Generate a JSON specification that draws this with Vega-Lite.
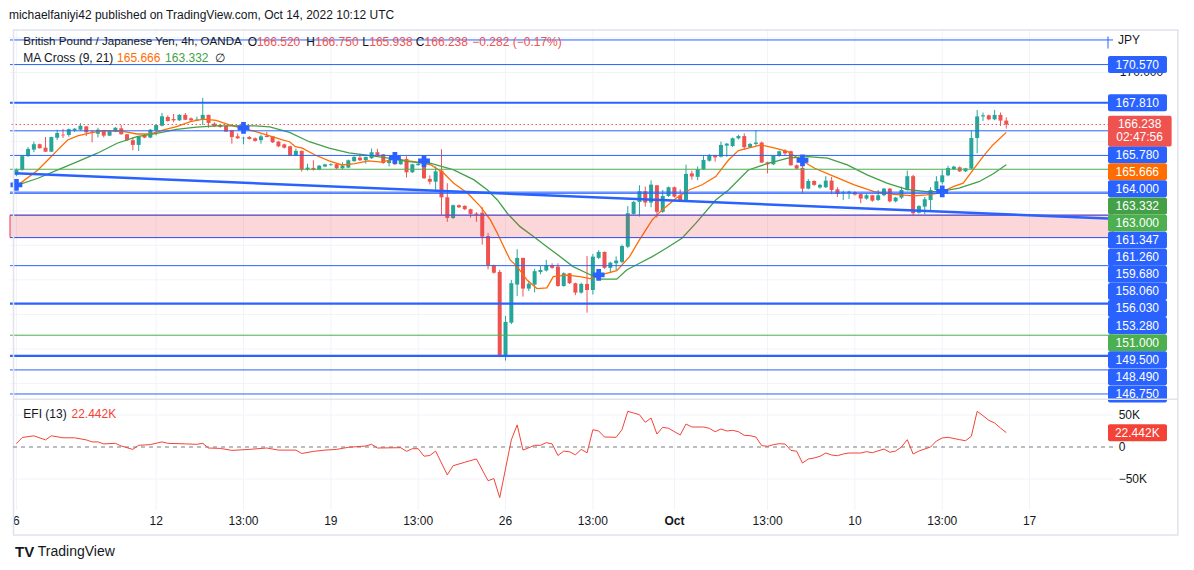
{
"$schema": "https://vega.github.io/schema/vega-lite/v6.json",
"width": 1103, "height": 480,
"autosize": {"type": "none"},
"padding": {"left": 10, "top": 30, "right": 81, "bottom": 60},
"background": "#ffffff",
"title": {"text": "michaelfaniyi42 published on TradingView.com, Oct 14, 2022 10:12 UTC", "anchor": "start", "fontSize": 12, "fontWeight": "normal", "color": "#131722", "font": "Liberation Sans", "offset": 7},
"config": {"view": {"stroke": null}, "font": "Liberation Sans"},
"datasets": {
"candles": [
{"i":-1,"o":162.60,"h":163.05,"l":162.50,"c":162.95},
{"i":0,"o":162.95,"h":164.00,"l":162.90,"c":163.95},
{"i":1,"o":163.95,"h":164.60,"l":163.90,"c":164.47},
{"i":2,"o":164.42,"h":165.00,"l":164.23,"c":164.81},
{"i":3,"o":164.81,"h":164.85,"l":164.50,"c":164.52},
{"i":4,"o":164.56,"h":165.33,"l":164.25,"c":164.27},
{"i":5,"o":164.27,"h":165.36,"l":164.25,"c":165.33},
{"i":6,"o":165.28,"h":165.86,"l":165.12,"c":165.62},
{"i":7,"o":165.50,"h":165.92,"l":165.26,"c":165.45},
{"i":8,"o":165.48,"h":165.94,"l":165.35,"c":165.90},
{"i":9,"o":165.81,"h":165.98,"l":165.70,"c":165.93},
{"i":10,"o":165.86,"h":166.33,"l":165.80,"c":166.15},
{"i":11,"o":166.10,"h":166.12,"l":165.40,"c":165.67},
{"i":12,"o":165.72,"h":165.82,"l":164.95,"c":165.63},
{"i":13,"o":165.57,"h":166.00,"l":165.30,"c":165.86},
{"i":14,"o":165.82,"h":165.84,"l":165.30,"c":165.43},
{"i":15,"o":165.43,"h":165.80,"l":165.40,"c":165.77},
{"i":16,"o":165.72,"h":166.05,"l":165.68,"c":166.00},
{"i":17,"o":165.96,"h":166.20,"l":165.50,"c":165.53},
{"i":18,"o":165.53,"h":165.55,"l":165.05,"c":165.10},
{"i":19,"o":165.10,"h":165.33,"l":164.37,"c":164.76},
{"i":20,"o":164.76,"h":165.42,"l":164.32,"c":165.38},
{"i":21,"o":165.48,"h":165.55,"l":165.25,"c":165.29},
{"i":22,"o":165.29,"h":165.90,"l":165.25,"c":165.86},
{"i":23,"o":165.82,"h":166.25,"l":165.45,"c":166.20},
{"i":24,"o":166.15,"h":167.07,"l":166.10,"c":166.83},
{"i":25,"o":166.78,"h":166.90,"l":166.45,"c":166.49},
{"i":26,"o":166.63,"h":167.00,"l":166.40,"c":166.54},
{"i":27,"o":166.54,"h":166.98,"l":166.50,"c":166.93},
{"i":28,"o":166.93,"h":167.07,"l":166.55,"c":166.58},
{"i":29,"o":166.68,"h":166.75,"l":166.50,"c":166.54},
{"i":30,"o":166.54,"h":166.80,"l":166.50,"c":166.60},
{"i":31,"o":166.58,"h":168.17,"l":166.20,"c":166.93},
{"i":32,"o":166.93,"h":166.95,"l":166.00,"c":166.35},
{"i":33,"o":166.30,"h":166.40,"l":166.05,"c":166.10},
{"i":34,"o":166.20,"h":166.25,"l":166.00,"c":166.06},
{"i":35,"o":166.15,"h":166.20,"l":165.70,"c":165.72},
{"i":36,"o":165.82,"h":165.85,"l":164.85,"c":165.33},
{"i":37,"o":165.38,"h":165.60,"l":165.20,"c":165.24},
{"i":38,"o":165.24,"h":165.35,"l":164.80,"c":165.28},
{"i":39,"o":165.33,"h":165.40,"l":165.15,"c":165.19},
{"i":40,"o":165.24,"h":165.30,"l":165.00,"c":165.05},
{"i":41,"o":165.10,"h":165.50,"l":164.85,"c":165.38},
{"i":42,"o":165.42,"h":165.70,"l":165.30,"c":165.33},
{"i":43,"o":165.38,"h":165.40,"l":164.90,"c":164.95},
{"i":44,"o":165.00,"h":165.05,"l":164.60,"c":164.66},
{"i":45,"o":164.80,"h":164.85,"l":164.50,"c":164.56},
{"i":46,"o":164.66,"h":164.70,"l":163.95,"c":163.99},
{"i":47,"o":163.99,"h":164.50,"l":163.95,"c":164.33},
{"i":48,"o":164.33,"h":164.35,"l":162.83,"c":162.97},
{"i":49,"o":162.97,"h":163.40,"l":162.90,"c":163.12},
{"i":50,"o":163.10,"h":163.65,"l":162.90,"c":162.97},
{"i":51,"o":162.97,"h":163.30,"l":162.93,"c":163.26},
{"i":52,"o":163.20,"h":163.40,"l":163.15,"c":163.35},
{"i":53,"o":163.30,"h":163.42,"l":163.25,"c":163.36},
{"i":54,"o":163.36,"h":163.40,"l":163.00,"c":163.07},
{"i":55,"o":163.07,"h":163.50,"l":163.00,"c":163.26},
{"i":56,"o":163.12,"h":163.70,"l":163.08,"c":163.65},
{"i":57,"o":163.58,"h":163.95,"l":163.55,"c":163.89},
{"i":58,"o":163.84,"h":164.10,"l":163.60,"c":163.65},
{"i":59,"o":163.65,"h":163.92,"l":163.40,"c":163.89},
{"i":60,"o":163.80,"h":164.50,"l":163.75,"c":164.23},
{"i":61,"o":164.23,"h":164.48,"l":163.98,"c":164.03},
{"i":62,"o":164.08,"h":164.10,"l":163.40,"c":163.45},
{"i":63,"o":163.45,"h":163.80,"l":163.20,"c":163.65},
{"i":64,"o":163.70,"h":163.75,"l":163.30,"c":163.36},
{"i":65,"o":163.36,"h":163.78,"l":163.32,"c":163.74},
{"i":66,"o":163.74,"h":163.94,"l":162.40,"c":162.78},
{"i":67,"o":162.78,"h":163.40,"l":162.74,"c":163.36},
{"i":68,"o":163.30,"h":163.45,"l":163.25,"c":163.40},
{"i":69,"o":163.45,"h":163.50,"l":162.30,"c":162.35},
{"i":70,"o":162.30,"h":162.55,"l":161.90,"c":162.10},
{"i":71,"o":162.10,"h":163.20,"l":161.50,"c":162.85},
{"i":72,"o":162.90,"h":164.45,"l":159.70,"c":160.97},
{"i":73,"o":160.97,"h":161.99,"l":159.20,"c":159.48},
{"i":74,"o":159.48,"h":160.45,"l":159.40,"c":160.40},
{"i":75,"o":160.40,"h":160.45,"l":160.20,"c":160.25},
{"i":76,"o":160.35,"h":160.40,"l":160.05,"c":160.11},
{"i":77,"o":160.11,"h":160.15,"l":159.50,"c":159.77},
{"i":78,"o":159.80,"h":159.90,"l":159.20,"c":159.70},
{"i":79,"o":159.86,"h":160.25,"l":157.55,"c":158.13},
{"i":80,"o":158.17,"h":158.40,"l":155.77,"c":156.06},
{"i":81,"o":156.06,"h":156.10,"l":155.45,"c":155.52},
{"i":82,"o":155.57,"h":155.72,"l":149.41,"c":149.55},
{"i":83,"o":149.55,"h":152.40,"l":149.16,"c":151.96},
{"i":84,"o":151.91,"h":155.00,"l":151.80,"c":154.76},
{"i":85,"o":154.66,"h":157.22,"l":153.84,"c":156.59},
{"i":86,"o":156.59,"h":156.60,"l":153.79,"c":154.37},
{"i":87,"o":154.37,"h":154.90,"l":154.20,"c":154.72},
{"i":88,"o":154.66,"h":155.80,"l":154.10,"c":155.63},
{"i":89,"o":155.57,"h":156.00,"l":155.40,"c":155.72},
{"i":90,"o":155.68,"h":156.45,"l":155.60,"c":156.06},
{"i":91,"o":156.06,"h":156.20,"l":155.80,"c":155.87},
{"i":92,"o":155.96,"h":156.20,"l":154.50,"c":154.56},
{"i":93,"o":154.56,"h":155.55,"l":154.50,"c":155.48},
{"i":94,"o":155.48,"h":155.50,"l":154.70,"c":154.76},
{"i":95,"o":154.76,"h":154.80,"l":153.90,"c":154.08},
{"i":96,"o":154.08,"h":154.80,"l":154.00,"c":154.71},
{"i":97,"o":154.71,"h":156.73,"l":152.63,"c":154.27},
{"i":98,"o":154.27,"h":156.87,"l":153.94,"c":156.68},
{"i":99,"o":156.59,"h":157.15,"l":156.50,"c":157.02},
{"i":100,"o":157.02,"h":157.05,"l":155.80,"c":155.87},
{"i":101,"o":155.87,"h":156.30,"l":155.50,"c":156.25},
{"i":102,"o":156.20,"h":156.70,"l":155.70,"c":156.40},
{"i":103,"o":156.30,"h":157.55,"l":156.20,"c":157.45},
{"i":104,"o":157.40,"h":160.34,"l":157.30,"c":159.82},
{"i":105,"o":159.77,"h":160.70,"l":159.70,"c":160.64},
{"i":106,"o":160.64,"h":161.84,"l":159.58,"c":161.41},
{"i":107,"o":161.41,"h":161.75,"l":160.30,"c":160.59},
{"i":108,"o":160.59,"h":162.20,"l":160.25,"c":161.89},
{"i":109,"o":161.84,"h":161.85,"l":159.50,"c":159.92},
{"i":110,"o":159.92,"h":161.50,"l":159.85,"c":161.07},
{"i":111,"o":161.07,"h":161.75,"l":161.00,"c":161.70},
{"i":112,"o":161.70,"h":161.75,"l":160.95,"c":161.02},
{"i":113,"o":161.12,"h":161.55,"l":160.70,"c":160.78},
{"i":114,"o":160.78,"h":163.33,"l":160.75,"c":162.66},
{"i":115,"o":162.70,"h":162.90,"l":162.25,"c":162.48},
{"i":116,"o":162.45,"h":163.20,"l":162.20,"c":163.00},
{"i":117,"o":163.00,"h":164.03,"l":162.95,"c":163.67},
{"i":118,"o":163.62,"h":164.10,"l":163.55,"c":164.01},
{"i":119,"o":164.00,"h":164.05,"l":163.55,"c":163.86},
{"i":120,"o":163.91,"h":165.00,"l":163.85,"c":164.76},
{"i":121,"o":164.71,"h":164.90,"l":163.90,"c":164.85},
{"i":122,"o":164.68,"h":165.30,"l":164.60,"c":165.24},
{"i":123,"o":165.24,"h":165.50,"l":165.15,"c":165.40},
{"i":124,"o":165.40,"h":165.60,"l":164.40,"c":164.59},
{"i":125,"o":164.59,"h":164.90,"l":164.55,"c":164.83},
{"i":126,"o":164.83,"h":165.84,"l":164.70,"c":164.93},
{"i":127,"o":164.93,"h":165.00,"l":163.45,"c":163.48},
{"i":128,"o":163.50,"h":163.55,"l":162.70,"c":163.36},
{"i":129,"o":163.36,"h":164.00,"l":163.30,"c":163.96},
{"i":130,"o":163.96,"h":164.35,"l":163.90,"c":164.30},
{"i":131,"o":164.35,"h":164.45,"l":164.00,"c":164.15},
{"i":132,"o":164.30,"h":164.35,"l":163.25,"c":163.29},
{"i":133,"o":163.29,"h":163.35,"l":163.00,"c":163.05},
{"i":134,"o":163.10,"h":163.50,"l":161.30,"c":161.60},
{"i":135,"o":161.60,"h":162.30,"l":161.55,"c":162.15},
{"i":136,"o":162.15,"h":162.20,"l":161.80,"c":161.87},
{"i":137,"o":161.68,"h":161.95,"l":161.60,"c":161.87},
{"i":138,"o":161.70,"h":162.50,"l":161.65,"c":162.18},
{"i":139,"o":162.18,"h":162.45,"l":161.20,"c":161.50},
{"i":140,"o":161.55,"h":161.70,"l":161.00,"c":161.21},
{"i":141,"o":161.30,"h":161.45,"l":160.78,"c":161.35},
{"i":142,"o":161.29,"h":161.45,"l":160.85,"c":161.38},
{"i":143,"o":161.35,"h":161.40,"l":161.10,"c":161.17},
{"i":144,"o":161.20,"h":161.25,"l":160.54,"c":160.88},
{"i":145,"o":160.88,"h":161.20,"l":160.80,"c":161.12},
{"i":146,"o":161.12,"h":161.15,"l":160.65,"c":160.73},
{"i":147,"o":160.78,"h":161.50,"l":160.70,"c":161.12},
{"i":148,"o":161.12,"h":161.65,"l":161.05,"c":161.60},
{"i":149,"o":161.60,"h":161.65,"l":160.60,"c":160.68},
{"i":150,"o":160.68,"h":161.00,"l":160.60,"c":160.95},
{"i":151,"o":160.95,"h":161.75,"l":160.85,"c":161.50},
{"i":152,"o":161.50,"h":162.90,"l":161.45,"c":162.50},
{"i":153,"o":162.50,"h":162.60,"l":159.70,"c":159.82},
{"i":154,"o":159.86,"h":160.40,"l":159.80,"c":160.34},
{"i":155,"o":160.30,"h":161.00,"l":159.75,"c":160.83},
{"i":156,"o":160.78,"h":161.70,"l":160.05,"c":161.50},
{"i":157,"o":161.50,"h":162.50,"l":161.40,"c":162.13},
{"i":158,"o":162.06,"h":163.00,"l":161.90,"c":162.56},
{"i":159,"o":162.56,"h":163.25,"l":162.50,"c":163.09},
{"i":160,"o":163.00,"h":163.25,"l":162.95,"c":163.19},
{"i":161,"o":163.14,"h":163.20,"l":162.80,"c":162.85},
{"i":162,"o":162.85,"h":163.10,"l":162.80,"c":163.07},
{"i":163,"o":163.05,"h":165.80,"l":163.00,"c":165.26},
{"i":164,"o":165.26,"h":167.29,"l":164.16,"c":166.82},
{"i":165,"o":166.82,"h":167.10,"l":166.50,"c":166.90},
{"i":166,"o":166.90,"h":166.95,"l":166.55,"c":166.61},
{"i":167,"o":166.61,"h":167.29,"l":166.55,"c":166.93},
{"i":168,"o":166.93,"h":167.10,"l":166.13,"c":166.52},
{"i":169,"o":166.52,"h":166.75,"l":165.94,"c":166.24}
],
"ma9": [
{"i":-0.7,"p":161.87},{"i":2.7,"p":162.95},{"i":4.4,"p":163.67},{"i":6.1,"p":164.40},{"i":7.8,"p":165.12},{"i":9.5,"p":165.41},{"i":11.9,"p":165.65},{"i":14.1,"p":165.79},{"i":17.5,"p":165.72},{"i":19.7,"p":165.55},{"i":22.1,"p":165.55},{"i":24.3,"p":165.84},{"i":26.5,"p":166.08},{"i":28.9,"p":166.44},{"i":31.1,"p":166.62},{"i":33.3,"p":166.54},{"i":35.7,"p":166.20},{"i":37.9,"p":165.96},{"i":40.1,"p":165.72},{"i":42.5,"p":165.41},{"i":44.7,"p":165.12},{"i":45.9,"p":164.99},{"i":46.9,"p":164.63},{"i":48.1,"p":164.52},{"i":50.3,"p":164.03},{"i":52.7,"p":163.60},{"i":54.9,"p":163.31},{"i":57.1,"p":163.40},{"i":59.5,"p":163.60},{"i":61.7,"p":163.51},{"i":63.9,"p":163.75},{"i":67.3,"p":163.55},{"i":70.2,"p":163.31},{"i":72.4,"p":162.71},{"i":74.1,"p":161.99},{"i":76.5,"p":161.27},{"i":78.7,"p":160.30},{"i":80.4,"p":159.34},{"i":81.6,"p":158.37},{"i":82.7,"p":157.40},{"i":83.8,"p":156.44},{"i":85.0,"p":155.96},{"i":86.7,"p":154.99},{"i":88.4,"p":154.37},{"i":90.1,"p":154.42},{"i":91.2,"p":155.24},{"i":93.5,"p":155.34},{"i":95.8,"p":155.24},{"i":97.5,"p":155.09},{"i":99.2,"p":155.34},{"i":102.1,"p":155.67},{"i":104.3,"p":156.68},{"i":106.0,"p":157.89},{"i":108.2,"p":159.34},{"i":109.9,"p":160.06},{"i":112.3,"p":160.90},{"i":114.5,"p":161.50},{"i":116.7,"p":161.86},{"i":119.1,"p":162.47},{"i":121.3,"p":163.67},{"i":123.0,"p":164.35},{"i":124.7,"p":164.52},{"i":126.9,"p":164.76},{"i":129.3,"p":164.52},{"i":131.5,"p":164.27},{"i":133.7,"p":163.67},{"i":136.1,"p":163.07},{"i":139.5,"p":162.47},{"i":142.9,"p":161.87},{"i":146.3,"p":161.38},{"i":149.7,"p":161.19},{"i":153.1,"p":161.07},{"i":155.3,"p":161.14},{"i":157.5,"p":161.27},{"i":159.9,"p":161.74},{"i":161.6,"p":161.99},{"i":163.3,"p":162.95},{"i":165.0,"p":163.91},{"i":166.7,"p":164.76},{"i":169,"p":165.666}
],
"ma21": [
{"i":-0.7,"p":161.87},{"i":2.7,"p":162.35},{"i":6.1,"p":162.95},{"i":9.5,"p":163.55},{"i":12.9,"p":164.16},{"i":16.3,"p":164.88},{"i":19.7,"p":165.36},{"i":23.1,"p":165.60},{"i":26.5,"p":165.89},{"i":29.9,"p":166.04},{"i":33.3,"p":166.13},{"i":36.7,"p":166.13},{"i":40.1,"p":166.13},{"i":42.5,"p":166.06},{"i":45.9,"p":165.67},{"i":49.3,"p":164.99},{"i":52.7,"p":164.52},{"i":56.1,"p":164.18},{"i":59.5,"p":164.00},{"i":62.9,"p":163.80},{"i":66.3,"p":163.55},{"i":70.2,"p":163.43},{"i":74.1,"p":162.95},{"i":77.6,"p":162.23},{"i":79.9,"p":161.50},{"i":81.6,"p":160.78},{"i":83.3,"p":159.82},{"i":85.5,"p":158.85},{"i":87.8,"p":158.13},{"i":90.1,"p":157.40},{"i":92.4,"p":156.68},{"i":94.6,"p":155.96},{"i":97.0,"p":155.48},{"i":99.2,"p":155.05},{"i":102.1,"p":155.05},{"i":103.8,"p":155.72},{"i":106.0,"p":156.20},{"i":108.2,"p":156.68},{"i":110.6,"p":157.29},{"i":113.3,"p":158.01},{"i":115.7,"p":159.10},{"i":119.1,"p":160.78},{"i":121.3,"p":161.50},{"i":124.7,"p":162.95},{"i":128.1,"p":163.43},{"i":131.5,"p":163.80},{"i":134.9,"p":163.91},{"i":138.3,"p":163.80},{"i":141.7,"p":163.31},{"i":145.1,"p":162.59},{"i":148.5,"p":161.99},{"i":151.9,"p":161.55},{"i":155.3,"p":161.38},{"i":157.5,"p":161.38},{"i":160.9,"p":161.63},{"i":164.3,"p":162.10},{"i":166.7,"p":162.66},{"i":169,"p":163.332}
],
"efi": [
{"i":-1,"v":5313},{"i":0,"v":14844},{"i":2,"v":17500},{"i":4,"v":11094},{"i":5,"v":17500},{"i":7,"v":14375},{"i":9,"v":14375},{"i":11,"v":11094},{"i":12,"v":7969},{"i":13,"v":7969},{"i":14,"v":4844},{"i":16,"v":5781},{"i":17,"v":1563},{"i":19,"v":-3750},{"i":20,"v":2656},{"i":22,"v":3750},{"i":24,"v":7969},{"i":25,"v":5781},{"i":28,"v":4844},{"i":30,"v":4219},{"i":31,"v":5781},{"i":32,"v":-1563},{"i":34,"v":-2188},{"i":36,"v":-5313},{"i":39,"v":-3750},{"i":42,"v":-1563},{"i":44,"v":-4844},{"i":47,"v":-4844},{"i":48,"v":-10156},{"i":50,"v":-6875},{"i":52,"v":-4844},{"i":54,"v":-3750},{"i":56,"v":-469},{"i":59,"v":1563},{"i":60,"v":4219},{"i":61,"v":-1563},{"i":65,"v":-1094},{"i":66,"v":-6875},{"i":67,"v":-2656},{"i":68,"v":-2656},{"i":69,"v":-14375},{"i":70,"v":-13281},{"i":71,"v":-6406},{"i":73,"v":-43594},{"i":74,"v":-29219},{"i":76,"v":-23906},{"i":78,"v":-18594},{"i":80,"v":-52656},{"i":81,"v":-49375},{"i":82,"v":-79219},{"i":84,"v":11094},{"i":85,"v":34531},{"i":86,"v":-4844},{"i":88,"v":2656},{"i":89,"v":2656},{"i":90,"v":6875},{"i":91,"v":4844},{"i":92,"v":-13281},{"i":93,"v":-6406},{"i":94,"v":-7500},{"i":95,"v":-12188},{"i":96,"v":-3750},{"i":97,"v":-9063},{"i":98,"v":27031},{"i":99,"v":25000},{"i":100,"v":15625},{"i":102,"v":15156},{"i":103,"v":27031},{"i":104,"v":55781},{"i":105,"v":53125},{"i":106,"v":50469},{"i":107,"v":38594},{"i":108,"v":45313},{"i":109,"v":20313},{"i":110,"v":30781},{"i":111,"v":29219},{"i":113,"v":18750},{"i":114,"v":35938},{"i":115,"v":31250},{"i":117,"v":31250},{"i":118,"v":29219},{"i":119,"v":23906},{"i":120,"v":28125},{"i":121,"v":25000},{"i":122,"v":26094},{"i":123,"v":23906},{"i":124,"v":18281},{"i":125,"v":17656},{"i":126,"v":15625},{"i":127,"v":2031},{"i":128,"v":1094},{"i":129,"v":3594},{"i":130,"v":5156},{"i":131,"v":4688},{"i":132,"v":-5156},{"i":133,"v":-6719},{"i":134,"v":-25000},{"i":135,"v":-18750},{"i":136,"v":-17188},{"i":137,"v":-14531},{"i":138,"v":-9375},{"i":139,"v":-12500},{"i":140,"v":-13594},{"i":141,"v":-10938},{"i":142,"v":-9375},{"i":143,"v":-9375},{"i":144,"v":-9375},{"i":145,"v":-7344},{"i":146,"v":-8906},{"i":148,"v":-3125},{"i":149,"v":-8281},{"i":150,"v":-6250},{"i":151,"v":0},{"i":152,"v":11406},{"i":153,"v":-10938},{"i":154,"v":-6250},{"i":156,"v":0},{"i":157,"v":9375},{"i":158,"v":14063},{"i":159,"v":15156},{"i":161,"v":11406},{"i":162,"v":9844},{"i":163,"v":16719},{"i":164,"v":55781},{"i":165,"v":48906},{"i":166,"v":41719},{"i":167,"v":37500},{"i":168,"v":29688},{"i":169,"v":22442}
],
"hlines": [
{"p":172.35,"kind":"level"},{"p":170.57,"kind":"level"},{"p":167.81,"kind":"major"},{"p":165.78,"kind":"level"},{"p":164.0,"kind":"level"},{"p":163.0,"kind":"key"},{"p":161.347,"kind":"level"},{"p":161.26,"kind":"level"},{"p":159.68,"kind":"level"},{"p":158.06,"kind":"level"},{"p":156.03,"kind":"level"},{"p":153.28,"kind":"major"},{"p":151.0,"kind":"key"},{"p":149.5,"kind":"major"},{"p":148.49,"kind":"level"},{"p":146.75,"kind":"level"}
],
"priceLabels": [
{"p":170.57,"kind":"level"},{"p":167.81,"kind":"major"},{"p":165.78,"kind":"level"},{"p":165.666,"kind":"ma9"},{"p":164.0,"kind":"level"},{"p":163.332,"kind":"ma21"},{"p":163.0,"kind":"key"},{"p":161.347,"kind":"level"},{"p":161.26,"kind":"level"},{"p":159.68,"kind":"level"},{"p":158.06,"kind":"level"},{"p":156.03,"kind":"level"},{"p":153.28,"kind":"major"},{"p":151.0,"kind":"key"},{"p":149.5,"kind":"major"},{"p":148.49,"kind":"level"},{"p":146.75,"kind":"level"}
],
"crosses": [
{"i":-1,"p":161.87},{"i":38,"p":165.99},{"i":64,"p":163.82},{"i":69,"p":163.6},{"i":99,"p":155.36},{"i":134,"p":163.64},{"i":158,"p":161.4}
],
"trend": [{"i":-1.242,"p":162.71},{"i":186.47,"p":159.44}],
"xticks": [
{"i":-1,"t":"6"},{"i":23,"t":"12"},{"i":38,"t":"13:00"},{"i":53,"t":"19"},{"i":68,"t":"13:00"},{"i":83,"t":"26"},{"i":98,"t":"13:00"},{"i":112,"t":"Oct"},{"i":128,"t":"13:00"},{"i":143,"t":"10"},{"i":158,"t":"13:00"},{"i":173,"t":"17"}
],
"pgrid": [{"p":147.5},{"p":150},{"p":152.5},{"p":155},{"p":157.5},{"p":160},{"p":162.5},{"p":165},{"p":167.5},{"p":170},{"p":172.5}],
"efiTicks": [{"v":50000,"t":"50K"},{"v":0,"t":"0"},{"v":-50000,"t":"−50K"}]
},
"layer": [
{"layer": [
{"data": {"name": "xticks"}, "mark": {"type": "rule", "color": "#f0f3fa", "strokeWidth": 1},
 "encoding": {"x": {"field": "i", "type": "quantitative", "scale": {"domain": [-1.242, 186.47], "nice": false, "zero": false}, "axis": null}}},
{"data": {"name": "pgrid"}, "mark": {"type": "rule", "color": "#f0f3fa", "strokeWidth": 1},
 "encoding": {"y": {"field": "p", "type": "quantitative", "scale": {"domain": [138.36, 173.07], "nice": false, "zero": false}, "axis": null}}},
{"data": {"name": "xticks"}, "transform": [{"filter": "datum.t != 'Oct'"}], "mark": {"type": "text", "color": "#131722", "fontSize": 12, "baseline": "middle", "align": "center"},
 "encoding": {"x": {"field": "i", "type": "quantitative", "scale": {"domain": [-1.242, 186.47], "nice": false, "zero": false}, "axis": null}, "y": {"datum": 137.58, "type": "quantitative", "scale": {"domain": [138.36, 173.07], "nice": false, "zero": false}, "axis": null}, "text": {"field": "t"}}},
{"data": {"name": "xticks"}, "transform": [{"filter": "datum.t == 'Oct'"}], "mark": {"type": "text", "color": "#131722", "fontSize": 12, "fontWeight": "bold", "baseline": "middle", "align": "center"},
 "encoding": {"x": {"field": "i", "type": "quantitative", "scale": {"domain": [-1.242, 186.47], "nice": false, "zero": false}, "axis": null}, "y": {"datum": 137.58, "type": "quantitative", "scale": {"domain": [138.36, 173.07], "nice": false, "zero": false}, "axis": null}, "text": {"field": "t"}}},
{"data": {"name": "candles"}, "mark": {"type": "rule", "clip": true, "strokeWidth": 1},
 "encoding": {
  "x": {"field": "i", "type": "quantitative", "scale": {"domain": [-1.242, 186.47], "nice": false, "zero": false}, "axis": null},
  "y": {"field": "l", "type": "quantitative", "scale": {"domain": [138.36, 173.07], "nice": false, "zero": false}, "axis": null},
  "y2": {"field": "h"},
  "color": {"condition": {"test": "datum.c >= datum.o", "value": "#26a69a"}, "value": "#ef5350"}}},
{"data": {"name": "candles"}, "mark": {"type": "bar", "clip": true, "size": 4},
 "encoding": {
  "x": {"field": "i", "type": "quantitative", "scale": {"domain": [-1.242, 186.47], "nice": false, "zero": false}, "axis": null},
  "y": {"field": "o", "type": "quantitative", "scale": {"domain": [138.36, 173.07], "nice": false, "zero": false}, "axis": null},
  "y2": {"field": "c"},
  "color": {"condition": {"test": "datum.c >= datum.o", "value": "#26a69a"}, "value": "#ef5350"}}},
{"data": {"name": "ma9"}, "mark": {"type": "line", "color": "#ff6d00", "strokeWidth": 1.3, "clip": true},
 "encoding": {
  "x": {"field": "i", "type": "quantitative", "scale": {"domain": [-1.242, 186.47], "nice": false, "zero": false}, "axis": null},
  "y": {"field": "p", "type": "quantitative", "scale": {"domain": [138.36, 173.07], "nice": false, "zero": false}, "axis": null}}},
{"data": {"name": "ma21"}, "mark": {"type": "line", "color": "#43a047", "strokeWidth": 1.3, "clip": true},
 "encoding": {
  "x": {"field": "i", "type": "quantitative", "scale": {"domain": [-1.242, 186.47], "nice": false, "zero": false}, "axis": null},
  "y": {"field": "p", "type": "quantitative", "scale": {"domain": [138.36, 173.07], "nice": false, "zero": false}, "axis": null}}},
{"data": {"values": [{"top": 159.68, "bottom": 158.06}]}, "mark": {"type": "rect", "color": "#f23645", "fillOpacity": 0.2, "stroke": "#f23645", "strokeWidth": 1},
 "encoding": {
  "y": {"field": "top", "type": "quantitative", "scale": {"domain": [138.36, 173.07], "nice": false, "zero": false}, "axis": null},
  "y2": {"field": "bottom"}}},
{"data": {"name": "hlines"}, "transform": [{"filter": "datum.kind == 'level'"}], "mark": {"type": "rule", "color": "#2962ff", "strokeWidth": 1},
 "encoding": {"y": {"field": "p", "type": "quantitative", "scale": {"domain": [138.36, 173.07], "nice": false, "zero": false}, "axis": null}}},
{"data": {"name": "hlines"}, "transform": [{"filter": "datum.kind == 'major'"}], "mark": {"type": "rule", "color": "#2962ff", "strokeWidth": 2.2},
 "encoding": {"y": {"field": "p", "type": "quantitative", "scale": {"domain": [138.36, 173.07], "nice": false, "zero": false}, "axis": null}}},
{"data": {"name": "hlines"}, "transform": [{"filter": "datum.kind == 'key'"}], "mark": {"type": "rule", "color": "#4caf50", "strokeWidth": 1},
 "encoding": {"y": {"field": "p", "type": "quantitative", "scale": {"domain": [138.36, 173.07], "nice": false, "zero": false}, "axis": null}}},
{"data": {"values": [{"p": 166.238}]}, "mark": {"type": "rule", "color": "#ef5350", "strokeDash": [1.5, 2.5], "strokeWidth": 1},
 "encoding": {
  "y": {"field": "p", "type": "quantitative", "scale": {"domain": [138.36, 173.07], "nice": false, "zero": false}, "axis": null}}},
{"data": {"name": "trend"}, "mark": {"type": "line", "color": "#2962ff", "strokeWidth": 2.5, "clip": true},
 "encoding": {
  "x": {"field": "i", "type": "quantitative", "scale": {"domain": [-1.242, 186.47], "nice": false, "zero": false}, "axis": null},
  "y": {"field": "p", "type": "quantitative", "scale": {"domain": [138.36, 173.07], "nice": false, "zero": false}, "axis": null}}},
{"data": {"name": "crosses"}, "mark": {"type": "point", "shape": "cross", "filled": true, "size": 140, "color": "#2962ff", "opacity": 1, "clip": true},
 "encoding": {
  "x": {"field": "i", "type": "quantitative", "scale": {"domain": [-1.242, 186.47], "nice": false, "zero": false}, "axis": null},
  "y": {"field": "p", "type": "quantitative", "scale": {"domain": [138.36, 173.07], "nice": false, "zero": false}, "axis": null}}},
{"data": {"values": [{}]}, "mark": {"type": "text", "align": "left", "baseline": "middle", "fontSize": 11.6, "color": "#131722"},
 "encoding": {"x": {"datum": 0.19, "type": "quantitative", "scale": {"domain": [-1.242, 186.47], "nice": false, "zero": false}, "axis": null}, "y": {"datum": 172.2, "type": "quantitative", "scale": {"domain": [138.36, 173.07], "nice": false, "zero": false}, "axis": null}, "text": {"value": "British Pound / Japanese Yen, 4h, OANDA"}}},
{"data": {"values": [{}]}, "mark": {"type": "text", "align": "left", "baseline": "middle", "fontSize": 12, "color": "#131722"},
 "encoding": {"x": {"datum": 38.75, "type": "quantitative", "scale": {"domain": [-1.242, 186.47], "nice": false, "zero": false}, "axis": null}, "y": {"datum": 172.2, "type": "quantitative", "scale": {"domain": [138.36, 173.07], "nice": false, "zero": false}, "axis": null}, "text": {"value": "O"}}},
{"data": {"values": [{}]}, "mark": {"type": "text", "align": "left", "baseline": "middle", "fontSize": 12, "color": "#ef5350"},
 "encoding": {"x": {"datum": 40.3, "type": "quantitative", "scale": {"domain": [-1.242, 186.47], "nice": false, "zero": false}, "axis": null}, "y": {"datum": 172.2, "type": "quantitative", "scale": {"domain": [138.36, 173.07], "nice": false, "zero": false}, "axis": null}, "text": {"value": "166.520"}}},
{"data": {"values": [{}]}, "mark": {"type": "text", "align": "left", "baseline": "middle", "fontSize": 12, "color": "#131722"},
 "encoding": {"x": {"datum": 48.79, "type": "quantitative", "scale": {"domain": [-1.242, 186.47], "nice": false, "zero": false}, "axis": null}, "y": {"datum": 172.2, "type": "quantitative", "scale": {"domain": [138.36, 173.07], "nice": false, "zero": false}, "axis": null}, "text": {"value": "H"}}},
{"data": {"values": [{}]}, "mark": {"type": "text", "align": "left", "baseline": "middle", "fontSize": 12, "color": "#ef5350"},
 "encoding": {"x": {"datum": 50.32, "type": "quantitative", "scale": {"domain": [-1.242, 186.47], "nice": false, "zero": false}, "axis": null}, "y": {"datum": 172.2, "type": "quantitative", "scale": {"domain": [138.36, 173.07], "nice": false, "zero": false}, "axis": null}, "text": {"value": "166.750"}}},
{"data": {"values": [{}]}, "mark": {"type": "text", "align": "left", "baseline": "middle", "fontSize": 12, "color": "#131722"},
 "encoding": {"x": {"datum": 58.4, "type": "quantitative", "scale": {"domain": [-1.242, 186.47], "nice": false, "zero": false}, "axis": null}, "y": {"datum": 172.2, "type": "quantitative", "scale": {"domain": [138.36, 173.07], "nice": false, "zero": false}, "axis": null}, "text": {"value": "L"}}},
{"data": {"values": [{}]}, "mark": {"type": "text", "align": "left", "baseline": "middle", "fontSize": 12, "color": "#ef5350"},
 "encoding": {"x": {"datum": 59.6, "type": "quantitative", "scale": {"domain": [-1.242, 186.47], "nice": false, "zero": false}, "axis": null}, "y": {"datum": 172.2, "type": "quantitative", "scale": {"domain": [138.36, 173.07], "nice": false, "zero": false}, "axis": null}, "text": {"value": "165.938"}}},
{"data": {"values": [{}]}, "mark": {"type": "text", "align": "left", "baseline": "middle", "fontSize": 12, "color": "#131722"},
 "encoding": {"x": {"datum": 67.6, "type": "quantitative", "scale": {"domain": [-1.242, 186.47], "nice": false, "zero": false}, "axis": null}, "y": {"datum": 172.2, "type": "quantitative", "scale": {"domain": [138.36, 173.07], "nice": false, "zero": false}, "axis": null}, "text": {"value": "C"}}},
{"data": {"values": [{}]}, "mark": {"type": "text", "align": "left", "baseline": "middle", "fontSize": 12, "color": "#ef5350"},
 "encoding": {"x": {"datum": 69.1, "type": "quantitative", "scale": {"domain": [-1.242, 186.47], "nice": false, "zero": false}, "axis": null}, "y": {"datum": 172.2, "type": "quantitative", "scale": {"domain": [138.36, 173.07], "nice": false, "zero": false}, "axis": null}, "text": {"value": "166.238"}}},
{"data": {"values": [{}]}, "mark": {"type": "text", "align": "left", "baseline": "middle", "fontSize": 12, "color": "#ef5350"},
 "encoding": {"x": {"datum": 77.3, "type": "quantitative", "scale": {"domain": [-1.242, 186.47], "nice": false, "zero": false}, "axis": null}, "y": {"datum": 172.2, "type": "quantitative", "scale": {"domain": [138.36, 173.07], "nice": false, "zero": false}, "axis": null}, "text": {"value": "−0.282 (−0.17%)"}}},
{"data": {"values": [{}]}, "mark": {"type": "text", "align": "left", "baseline": "middle", "fontSize": 12, "color": "#131722"},
 "encoding": {"x": {"datum": 0.19, "type": "quantitative", "scale": {"domain": [-1.242, 186.47], "nice": false, "zero": false}, "axis": null}, "y": {"datum": 171.05, "type": "quantitative", "scale": {"domain": [138.36, 173.07], "nice": false, "zero": false}, "axis": null}, "text": {"value": "MA Cross (9, 21)"}}},
{"data": {"values": [{}]}, "mark": {"type": "text", "align": "left", "baseline": "middle", "fontSize": 12, "color": "#ff6d00"},
 "encoding": {"x": {"datum": 16.29, "type": "quantitative", "scale": {"domain": [-1.242, 186.47], "nice": false, "zero": false}, "axis": null}, "y": {"datum": 171.05, "type": "quantitative", "scale": {"domain": [138.36, 173.07], "nice": false, "zero": false}, "axis": null}, "text": {"value": "165.666"}}},
{"data": {"values": [{}]}, "mark": {"type": "text", "align": "left", "baseline": "middle", "fontSize": 12, "color": "#43a047"},
 "encoding": {"x": {"datum": 24.54, "type": "quantitative", "scale": {"domain": [-1.242, 186.47], "nice": false, "zero": false}, "axis": null}, "y": {"datum": 171.05, "type": "quantitative", "scale": {"domain": [138.36, 173.07], "nice": false, "zero": false}, "axis": null}, "text": {"value": "163.332"}}},
{"data": {"values": [{}]}, "mark": {"type": "text", "align": "left", "baseline": "middle", "fontSize": 12, "color": "#131722"},
 "encoding": {"x": {"datum": 33.13, "type": "quantitative", "scale": {"domain": [-1.242, 186.47], "nice": false, "zero": false}, "axis": null}, "y": {"datum": 171.05, "type": "quantitative", "scale": {"domain": [138.36, 173.07], "nice": false, "zero": false}, "axis": null}, "text": {"value": "∅"}}},
{"data": {"values": [{"p": 170}]}, "mark": {"type": "text", "align": "left", "baseline": "middle", "fontSize": 12, "color": "#131722"},
 "encoding": {"x": {"datum": 188.5, "type": "quantitative", "scale": {"domain": [-1.242, 186.47], "nice": false, "zero": false}, "axis": null}, "y": {"field": "p", "type": "quantitative", "scale": {"domain": [138.36, 173.07], "nice": false, "zero": false}, "axis": null}, "text": {"field": "p", "type": "quantitative", "format": ".3f"}}},
{"data": {"name": "priceLabels"},
 "transform": [
  {"window": [{"op": "row_number", "as": "rn"}], "sort": [{"field": "p", "order": "ascending"}]},
  {"calculate": "datum.rn <= 15 ? 146.75 + (datum.rn - 1) * 1.2362 : datum.p", "as": "pos"},
  {"calculate": "datum.pos + 0.614", "as": "top"},
  {"calculate": "datum.pos - 0.614", "as": "bot"}
 ],
 "layer": [
  {"mark": {"type": "rect", "cornerRadius": 2},
   "encoding": {
    "x": {"datum": 186.47, "type": "quantitative", "scale": {"domain": [-1.242, 186.47], "nice": false, "zero": false}, "axis": null},
    "x2": {"datum": 196.6},
    "y": {"field": "top", "type": "quantitative", "scale": {"domain": [138.36, 173.07], "nice": false, "zero": false}, "axis": null},
    "y2": {"field": "bot"},
    "color": {"field": "kind", "type": "nominal", "scale": {"domain": ["level","major","key","ma9","ma21"], "range": ["#2962ff","#2962ff","#4caf50","#ff6d00","#43a047"]}, "legend": null}}},
  {"mark": {"type": "text", "color": "#ffffff", "fontSize": 12, "baseline": "middle", "align": "center"},
   "encoding": {
    "x": {"datum": 191.5, "type": "quantitative", "scale": {"domain": [-1.242, 186.47], "nice": false, "zero": false}, "axis": null},
    "y": {"field": "pos", "type": "quantitative", "scale": {"domain": [138.36, 173.07], "nice": false, "zero": false}, "axis": null},
    "text": {"field": "p", "type": "quantitative", "format": ".3f"}}}
 ]},
{"data": {"values": [{"p": 166.238, "timer": "02:47:56"}]},
 "transform": [
  {"calculate": "datum.p + 0.63", "as": "top"},
  {"calculate": "datum.p - 1.6", "as": "bot"},
  {"calculate": "datum.p + 0.05", "as": "t1"},
  {"calculate": "datum.p - 0.94", "as": "t2"}
 ],
 "layer": [
  {"mark": {"type": "rect", "color": "#ef5350", "cornerRadius": 2},
   "encoding": {
    "x": {"datum": 186.47, "type": "quantitative", "scale": {"domain": [-1.242, 186.47], "nice": false, "zero": false}, "axis": null},
    "x2": {"datum": 197.4},
    "y": {"field": "top", "type": "quantitative", "scale": {"domain": [138.36, 173.07], "nice": false, "zero": false}, "axis": null},
    "y2": {"field": "bot"}}},
  {"mark": {"type": "text", "color": "#ffffff", "fontSize": 12, "baseline": "middle", "align": "center"},
   "encoding": {
    "x": {"datum": 191.9, "type": "quantitative", "scale": {"domain": [-1.242, 186.47], "nice": false, "zero": false}, "axis": null},
    "y": {"field": "t1", "type": "quantitative", "scale": {"domain": [138.36, 173.07], "nice": false, "zero": false}, "axis": null},
    "text": {"field": "p", "type": "quantitative", "format": ".3f"}}},
  {"mark": {"type": "text", "color": "#ffffff", "fontSize": 12, "baseline": "middle", "align": "center"},
   "encoding": {
    "x": {"datum": 191.9, "type": "quantitative", "scale": {"domain": [-1.242, 186.47], "nice": false, "zero": false}, "axis": null},
    "y": {"field": "t2", "type": "quantitative", "scale": {"domain": [138.36, 173.07], "nice": false, "zero": false}, "axis": null},
    "text": {"field": "timer"}}}
 ]},
{"data": {"values": [{}]}, "mark": {"type": "text", "align": "left", "baseline": "middle", "fontSize": 12, "color": "#131722"},
 "encoding": {"x": {"datum": 188.2, "type": "quantitative", "scale": {"domain": [-1.242, 186.47], "nice": false, "zero": false}, "axis": null}, "y": {"datum": 172.35, "type": "quantitative", "scale": {"domain": [138.36, 173.07], "nice": false, "zero": false}, "axis": null}, "text": {"value": "JPY"}}},
{"data": {"values": [{}]}, "mark": {"type": "rule", "color": "#2962ff", "strokeWidth": 1},
 "encoding": {"x": {"datum": 186.47, "type": "quantitative", "scale": {"domain": [-1.242, 186.47], "nice": false, "zero": false}, "axis": null}, "y": {"datum": 172.6, "type": "quantitative", "scale": {"domain": [138.36, 173.07], "nice": false, "zero": false}, "axis": null}, "y2": {"datum": 171.73}}},
{"data": {"values": [{}]}, "mark": {"type": "rule", "color": "#e0e3eb", "strokeWidth": 1.5},
 "encoding": {"x": {"datum": -1.498, "type": "quantitative", "scale": {"domain": [-1.242, 186.47], "nice": false, "zero": false}, "axis": null}, "x2": {"datum": 198.47}, "y": {"datum": 146.36, "type": "quantitative", "scale": {"domain": [138.36, 173.07], "nice": false, "zero": false}, "axis": null}}},
{"data": {"values": [{}]}, "mark": {"type": "rect", "fillOpacity": 0, "stroke": "#e0e3eb", "strokeWidth": 1.5},
 "encoding": {"x": {"datum": -1.498, "type": "quantitative", "scale": {"domain": [-1.242, 186.47], "nice": false, "zero": false}, "axis": null}, "x2": {"datum": 198.47}, "y": {"datum": 173.07, "type": "quantitative", "scale": {"domain": [138.36, 173.07], "nice": false, "zero": false}, "axis": null}, "y2": {"datum": 136.56}}},
{"data": {"values": [{}]}, "mark": {"type": "text", "align": "left", "baseline": "middle", "fontSize": 15, "fontWeight": 900, "color": "#131722"},
 "encoding": {"x": {"datum": -1.24, "type": "quantitative", "scale": {"domain": [-1.242, 186.47], "nice": false, "zero": false}, "axis": null}, "y": {"datum": 135.33, "type": "quantitative", "scale": {"domain": [138.36, 173.07], "nice": false, "zero": false}, "axis": null}, "text": {"value": "TV"}}},
{"data": {"values": [{}]}, "mark": {"type": "text", "align": "left", "baseline": "middle", "fontSize": 14, "color": "#131722"},
 "encoding": {"x": {"datum": 2.67, "type": "quantitative", "scale": {"domain": [-1.242, 186.47], "nice": false, "zero": false}, "axis": null}, "y": {"datum": 135.33, "type": "quantitative", "scale": {"domain": [138.36, 173.07], "nice": false, "zero": false}, "axis": null}, "text": {"value": "TradingView"}}}
]},
{"layer": [
{"data": {"name": "efiTicks"}, "transform": [{"filter": "datum.v != 0"}], "mark": {"type": "rule", "color": "#f0f3fa", "strokeWidth": 1},
 "encoding": {"y": {"field": "v", "type": "quantitative", "scale": {"domain": [-98437, 651562], "nice": false, "zero": false}, "axis": null}}},
{"data": {"values": [{}]}, "mark": {"type": "rule", "color": "#787b86", "strokeDash": [4, 4], "strokeWidth": 1},
 "encoding": {"y": {"datum": 0, "type": "quantitative", "scale": {"domain": [-98437, 651562], "nice": false, "zero": false}, "axis": null}}},
{"data": {"name": "efiTicks"}, "mark": {"type": "text", "align": "left", "baseline": "middle", "fontSize": 12, "color": "#131722"},
 "encoding": {"x": {"datum": 188.3, "type": "quantitative", "scale": {"domain": [-1.242, 186.47], "nice": false, "zero": false}, "axis": null}, "y": {"field": "v", "type": "quantitative", "scale": {"domain": [-98437, 651562], "nice": false, "zero": false}, "axis": null}, "text": {"field": "t"}}},
{"data": {"name": "efi"}, "mark": {"type": "line", "color": "#f44336", "strokeWidth": 1, "clip": true},
 "encoding": {
  "x": {"field": "i", "type": "quantitative", "scale": {"domain": [-1.242, 186.47], "nice": false, "zero": false}, "axis": null},
  "y": {"field": "v", "type": "quantitative", "scale": {"domain": [-98437, 651562], "nice": false, "zero": false}, "axis": null}}},
{"data": {"values": [{"v": 22442}]},
 "transform": [{"calculate": "datum.v + 13281", "as": "top"}, {"calculate": "datum.v - 13281", "as": "bot"}],
 "layer": [
  {"mark": {"type": "rect", "color": "#f44336", "cornerRadius": 2},
   "encoding": {
    "x": {"datum": 186.47, "type": "quantitative", "scale": {"domain": [-1.242, 186.47], "nice": false, "zero": false}, "axis": null},
    "x2": {"datum": 196.6},
    "y": {"field": "top", "type": "quantitative", "scale": {"domain": [-98437, 651562], "nice": false, "zero": false}, "axis": null},
    "y2": {"field": "bot"}}},
  {"mark": {"type": "text", "color": "#ffffff", "fontSize": 12, "baseline": "middle", "align": "center"},
   "encoding": {
    "x": {"datum": 191.5, "type": "quantitative", "scale": {"domain": [-1.242, 186.47], "nice": false, "zero": false}, "axis": null},
    "y": {"field": "v", "type": "quantitative", "scale": {"domain": [-98437, 651562], "nice": false, "zero": false}, "axis": null},
    "text": {"value": "22.442K"}}}
 ]},
{"data": {"values": [{}]}, "mark": {"type": "text", "align": "left", "baseline": "middle", "fontSize": 12, "color": "#131722"},
 "encoding": {"x": {"datum": 0.19, "type": "quantitative", "scale": {"domain": [-1.242, 186.47], "nice": false, "zero": false}, "axis": null}, "y": {"datum": 51563, "type": "quantitative", "scale": {"domain": [-98437, 651562], "nice": false, "zero": false}, "axis": null}, "text": {"value": "EFI (13)"}}},
{"data": {"values": [{}]}, "mark": {"type": "text", "align": "left", "baseline": "middle", "fontSize": 12, "color": "#f44336"},
 "encoding": {"x": {"datum": 8.46, "type": "quantitative", "scale": {"domain": [-1.242, 186.47], "nice": false, "zero": false}, "axis": null}, "y": {"datum": 51563, "type": "quantitative", "scale": {"domain": [-98437, 651562], "nice": false, "zero": false}, "axis": null}, "text": {"value": "22.442K"}}}
]}
],
"resolve": {"scale": {"y": "independent"}}
}
